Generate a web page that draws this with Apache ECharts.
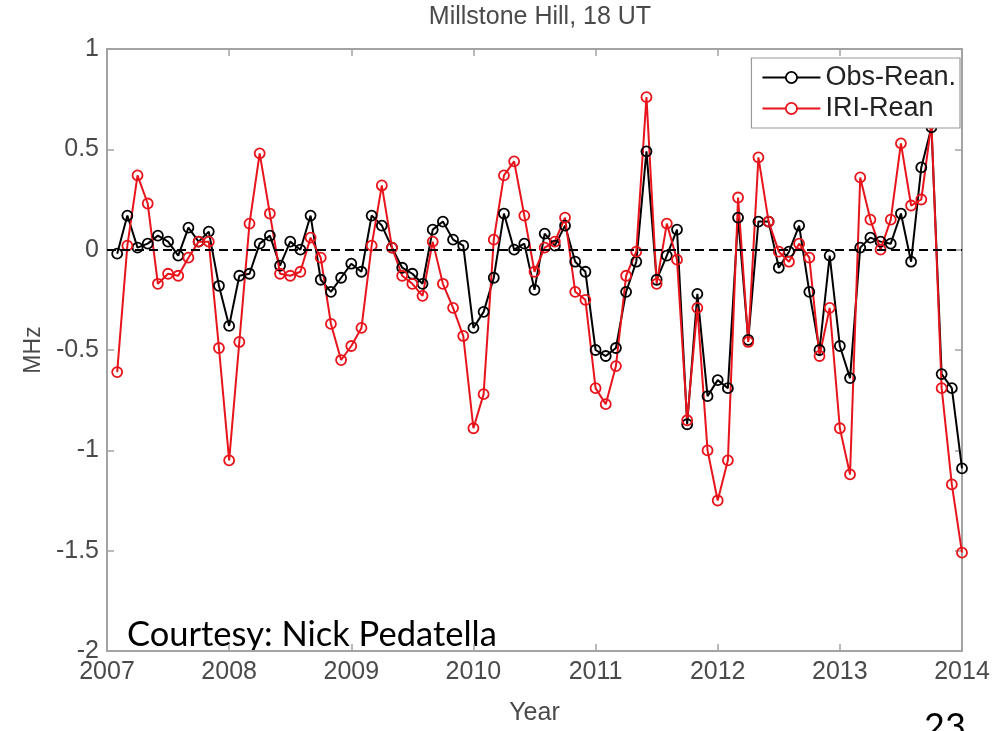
<!DOCTYPE html>
<html>
<head>
<meta charset="utf-8">
<script src="https://cdn.jsdelivr.net/npm/echarts@6/dist/echarts.min.js"></script>
<style>
html,body{margin:0;padding:0;background:#fff;}
#chart{width:994px;height:731px;}
</style>
</head>
<body>
<div id="chart"></div>
<script>
// Monthly samples, Feb 2007 .. Jan 2014 (84 months)
const startYear = 2007;
const monthsCount = 84;
const obsRean = [
  -0.02, 0.17, 0.01, 0.03, 0.07, 0.04, -0.03, 0.11, 0.04, 0.09, -0.18, -0.38,
  -0.13, -0.12, 0.03, 0.07, -0.08, 0.04, 0.00, 0.17, -0.15, -0.21, -0.14, -0.07,
  -0.11, 0.17, 0.12, 0.01, -0.09, -0.12, -0.17, 0.10, 0.14, 0.05, 0.02, -0.39,
  -0.31, -0.14, 0.18, 0.00, 0.03, -0.20, 0.08, 0.02, 0.12, -0.06, -0.11, -0.50,
  -0.53, -0.49, -0.21, -0.06, 0.49, -0.15, -0.03, 0.10, -0.87, -0.22, -0.73, -0.65,
  -0.69, 0.16, -0.45, 0.14, 0.14, -0.09, -0.01, 0.12, -0.21, -0.50, -0.03, -0.48,
  -0.64, 0.01, 0.06, 0.04, 0.03, 0.18, -0.06, 0.41, 0.61, -0.62, -0.69, -1.09
];
const iriRean = [
  -0.61, 0.02, 0.37, 0.23, -0.17, -0.12, -0.13, -0.04, 0.04, 0.04, -0.49, -1.05,
  -0.46, 0.13, 0.48, 0.18, -0.12, -0.13, -0.11, 0.06, -0.04, -0.37, -0.55, -0.48,
  -0.39, 0.02, 0.32, 0.01, -0.13, -0.17, -0.23, 0.04, -0.17, -0.29, -0.43, -0.89,
  -0.72, 0.05, 0.37, 0.44, 0.17, -0.11, 0.01, 0.04, 0.16, -0.21, -0.25, -0.69,
  -0.77, -0.58, -0.13, -0.01, 0.76, -0.17, 0.13, -0.05, -0.85, -0.29, -1.00, -1.25,
  -1.05, 0.26, -0.46, 0.46, 0.14, -0.01, -0.06, 0.03, -0.04, -0.53, -0.29, -0.89,
  -1.12, 0.36, 0.15, 0.00, 0.15, 0.53, 0.22, 0.25, 0.63, -0.69, -1.17, -1.51
];
const xTicks = [2007, 2008, 2009, 2010, 2011, 2012, 2013, 2014];
const yTicks = [-2, -1.5, -1, -0.5, 0, 0.5, 1];
const seriesNames = ['Obs-Rean.', 'IRI-Rean'];

const timeX = [];
for (let k = 1; k <= monthsCount; k++) timeX.push(startYear + k / 12);
const pair = (vals) => vals.map((v, i) => [timeX[i], v]);

const axisGray = '#a3a3a3';
const labelGray = '#4a4a4a';
const font = 'Liberation Sans, Arial, sans-serif';

const baseX = {
  type: 'value', min: xTicks[0], max: xTicks[xTicks.length - 1], interval: 1,
  splitLine: { show: false },
  axisLine: { show: true, onZero: false, lineStyle: { color: axisGray, width: 2 } },
  axisTick: { show: true, inside: true, length: 7, lineStyle: { color: axisGray, width: 1.5 } }
};
const baseY = {
  type: 'value', min: yTicks[0], max: yTicks[yTicks.length - 1], interval: 0.5,
  splitLine: { show: false },
  axisLine: { show: true, onZero: false, lineStyle: { color: axisGray, width: 2 } },
  axisTick: { show: true, inside: true, length: 7, lineStyle: { color: axisGray, width: 1.5 } }
};

const chart = echarts.init(document.getElementById('chart'), null, { renderer: 'canvas' });
const mk = (name, color, vals, extra) => Object.assign({
  name: name, type: 'line', data: pair(vals),
  symbol: 'circle', symbolSize: 10, showSymbol: true,
  lineStyle: { color: color, width: 2 },
  itemStyle: { color: 'rgba(255,255,255,0)', borderColor: color, borderWidth: 1.8 },
  emphasis: { disabled: true },
  animation: false
}, extra || {});

chart.setOption({
  backgroundColor: '#fff',
  animation: false,
  title: {
    text: 'Millstone Hill, 18 UT', left: 535, top: 0, textAlign: 'center',
    textStyle: { fontFamily: font, fontSize: 25, fontWeight: 'normal', color: labelGray }
  },
  grid: { left: 107, right: 32, top: 49, bottom: 58 },
  legend: {
    data: seriesNames.map((n, i) => ({
      name: n,
      itemStyle: { color: '#fff', borderColor: i === 0 ? '#000' : '#e8141b', borderWidth: 1.8 }
    })),
    orient: 'vertical', right: 34, top: 58,
    backgroundColor: '#fff', borderColor: '#999', borderWidth: 1.2,
    padding: [6, 4, 6, 10], itemGap: 4, itemWidth: 58, itemHeight: 14,
    textStyle: { fontFamily: font, fontSize: 27, color: '#222' }
  },
  xAxis: [
    Object.assign({}, baseX, {
      position: 'bottom',
      name: 'Year', nameLocation: 'middle', nameGap: 50,
      nameTextStyle: { fontFamily: font, fontSize: 25, color: labelGray },
      axisLabel: { show: true, margin: 9, fontFamily: font, fontSize: 25, color: labelGray, formatter: (v) => String(v) }
    }),
    Object.assign({}, baseX, { position: 'top', axisLabel: { show: false } })
  ],
  yAxis: [
    Object.assign({}, baseY, {
      position: 'left',
      name: 'MHz', nameLocation: 'middle', nameGap: 60, nameRotate: 90,
      nameTextStyle: { fontFamily: font, fontSize: 23, color: labelGray },
      axisLabel: { show: true, margin: 8, fontFamily: font, fontSize: 25, color: labelGray, formatter: (v) => String(v) }
    }),
    Object.assign({}, baseY, { position: 'right', axisLabel: { show: false } })
  ],
  series: [
    mk(seriesNames[0], '#000000', obsRean, {
      markLine: {
        silent: true, symbol: 'none', animation: false,
        label: { show: false },
        lineStyle: { color: '#000', type: [9, 5], width: 2 },
        data: [{ yAxis: 0 }]
      }
    }),
    mk(seriesNames[1], '#e8141b', iriRean)
  ],
  graphic: [
    { type: 'text', left: 127, top: 617,
      style: { text: 'Courtesy: Nick Pedatella', fontFamily: 'Lato, sans-serif', fontSize: 34.5, fill: '#000' } },
    { type: 'text', left: 924, top: 709,
      style: { text: '23', fontFamily: 'Lato, sans-serif', fontSize: 36, fill: '#000' } }
  ]
});
</script>
</body>
</html>
